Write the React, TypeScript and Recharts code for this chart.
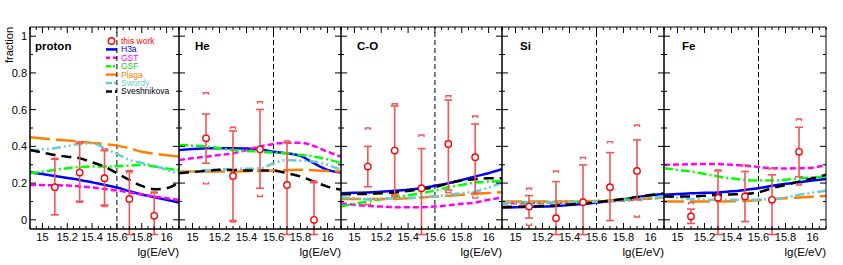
import { ComposedChart, Line, Scatter, ErrorBar, XAxis, YAxis, ReferenceLine } from "recharts";

const FONT = '"Liberation Sans", Arial, Helvetica, sans-serif';

// energy grid of the model curves and the measured bins, lg(E/eV)
const E_GRID = [14.9, 15.0, 15.1, 15.2, 15.3, 15.4, 15.5, 15.6, 15.7, 15.8, 15.9, 16.0, 16.1];
const POINT_E = [15.1, 15.3, 15.5, 15.7, 15.9];

const X_TICKS = [15, 15.2, 15.4, 15.6, 15.8, 16];
const X_MINOR = [14.9, 14.95, 15, 15.05, 15.1, 15.15, 15.2, 15.25, 15.3, 15.35, 15.4, 15.45, 15.5, 15.55, 15.6, 15.65, 15.7, 15.75, 15.8, 15.85, 15.9, 15.95, 16, 16.05, 16.1];
const Y_TICKS = [0, 0.2, 0.4, 0.6, 0.8, 1];
const Y_MINOR = [0, 0.1, 0.2, 0.3, 0.4, 0.5, 0.6, 0.7, 0.8, 0.9, 1];

const MODELS = ["H3a", "GST", "GSF", "Plaga", "Swordy", "Sveshnikova"];

const MODEL_STYLE: Record<string, { color: string; text: string; dash?: string; legendDash?: string }> = {
  H3a: { color: "#0000ff", text: "#0000ff" },
  GST: { color: "#ff00ff", text: "#ff00ff", dash: "6 3", legendDash: "4 3" },
  GSF: { color: "#00ff00", text: "#22cc22", dash: "9 3 2 3", legendDash: "5 2 2 2" },
  Plaga: { color: "#ff7f00", text: "#ff7f00", dash: "20 6" },
  Swordy: { color: "#66cccc", text: "#66cccc", dash: "9 3 2 3 2 3", legendDash: "6 2 2 2" },
  Sveshnikova: { color: "#000000", text: "#000000", dash: "10 6", legendDash: "6 3" },
};

// proton
const PROTON_MODELS = {
  H3a: [0.259, 0.249, 0.239, 0.228, 0.217, 0.204, 0.19, 0.176, 0.156, 0.138, 0.123, 0.109, 0.094],
  GST: [0.19, 0.189, 0.188, 0.187, 0.182, 0.176, 0.168, 0.16, 0.149, 0.138, 0.127, 0.118, 0.109],
  GSF: [0.254, 0.262, 0.272, 0.281, 0.288, 0.29, 0.29, 0.292, 0.295, 0.3, 0.29, 0.28, 0.27],
  Plaga: [0.449, 0.443, 0.437, 0.432, 0.426, 0.419, 0.412, 0.404, 0.39, 0.371, 0.36, 0.352, 0.344],
  Swordy: [0.377, 0.383, 0.39, 0.402, 0.413, 0.417, 0.39, 0.359, 0.326, 0.31, 0.295, 0.272, 0.25],
  Sveshnikova: [0.38, 0.367, 0.353, 0.344, 0.335, 0.313, 0.29, 0.254, 0.217, 0.185, 0.167, 0.172, 0.203],
};
const PROTON_POINTS = {
  val: [0.178, 0.257, 0.227, 0.114, 0.022],
  statLo: [0.027, 0.1, 0.08, -0.08, -0.08],
  statHi: [0.33, 0.417, 0.377, 0.268, 0.148],
  sysLo: [-0.1, 0.095, 0.072, -0.1, -0.1],
  sysHi: [0.335, 0.425, 0.386, 0.262, 0.152],
};

// He
const HE_MODELS = {
  H3a: [0.38, 0.385, 0.39, 0.39, 0.39, 0.388, 0.384, 0.371, 0.362, 0.348, 0.308, 0.272, 0.257],
  GST: [0.326, 0.335, 0.344, 0.353, 0.362, 0.38, 0.399, 0.413, 0.42, 0.42, 0.402, 0.371, 0.344],
  GSF: [0.408, 0.404, 0.399, 0.39, 0.38, 0.375, 0.371, 0.366, 0.362, 0.353, 0.344, 0.33, 0.308],
  Plaga: [0.263, 0.263, 0.263, 0.263, 0.263, 0.265, 0.266, 0.268, 0.27, 0.272, 0.27, 0.266, 0.263],
  Swordy: [0.257, 0.263, 0.27, 0.275, 0.277, 0.278, 0.28, 0.308, 0.326, 0.322, 0.317, 0.3, 0.272],
  Sveshnikova: [0.254, 0.26, 0.266, 0.272, 0.27, 0.268, 0.268, 0.268, 0.254, 0.236, 0.208, 0.181, 0.163],
};
const HE_POINTS = {
  val: [0.444, 0.239, 0.384, 0.19, 0.0],
  statLo: [0.308, -0.004, 0.172, -0.08, -0.08],
  statHi: [0.576, 0.484, 0.601, 0.42, 0.203],
  sysLo: [0.196, -0.012, 0.127, -0.1, -0.1],
  sysHi: [0.692, 0.504, 0.643, 0.43, 0.21],
};

// C-O
const CO_MODELS = {
  H3a: [0.145, 0.147, 0.149, 0.153, 0.158, 0.164, 0.172, 0.185, 0.199, 0.217, 0.236, 0.254, 0.275],
  GST: [0.09, 0.082, 0.076, 0.072, 0.069, 0.069, 0.069, 0.072, 0.079, 0.087, 0.094, 0.109, 0.121],
  GSF: [0.072, 0.088, 0.1, 0.112, 0.123, 0.134, 0.145, 0.159, 0.178, 0.19, 0.203, 0.208, 0.212],
  Plaga: [0.114, 0.114, 0.114, 0.114, 0.114, 0.118, 0.122, 0.127, 0.131, 0.136, 0.141, 0.146, 0.15],
  Swordy: [0.123, 0.117, 0.112, 0.114, 0.118, 0.12, 0.123, 0.128, 0.136, 0.145, 0.154, 0.175, 0.203],
  Sveshnikova: [0.139, 0.14, 0.141, 0.145, 0.149, 0.157, 0.167, 0.178, 0.199, 0.214, 0.221, 0.226, 0.226],
};
const CO_POINTS = {
  val: [0.29, 0.377, 0.172, 0.413, 0.341],
  statLo: [0.18, 0.136, -0.08, 0.163, 0.145],
  statHi: [0.4, 0.62, 0.388, 0.652, 0.522],
  sysLo: [0.082, 0.128, -0.1, 0.148, 0.118],
  sysHi: [0.5, 0.632, 0.462, 0.676, 0.565],
};

// Si
const SI_MODELS = {
  H3a: [0.067, 0.068, 0.07, 0.072, 0.075, 0.08, 0.087, 0.094, 0.103, 0.112, 0.123, 0.134, 0.141],
  GST: [0.09, 0.09, 0.091, 0.092, 0.093, 0.094, 0.096, 0.098, 0.101, 0.105, 0.11, 0.116, 0.122],
  GSF: [0.095, 0.095, 0.096, 0.097, 0.098, 0.099, 0.1, 0.101, 0.104, 0.108, 0.113, 0.118, 0.123],
  Plaga: [0.1, 0.1, 0.1, 0.1, 0.1, 0.1, 0.101, 0.103, 0.106, 0.11, 0.114, 0.118, 0.123],
  Swordy: [0.094, 0.094, 0.094, 0.094, 0.094, 0.095, 0.097, 0.099, 0.103, 0.108, 0.114, 0.12, 0.127],
  Sveshnikova: [0.07, 0.071, 0.073, 0.075, 0.078, 0.083, 0.089, 0.096, 0.104, 0.113, 0.124, 0.135, 0.143],
};
const SI_POINTS = {
  val: [0.072, 0.009, 0.096, 0.178, 0.266],
  statLo: [0.009, -0.08, -0.08, -0.004, 0.112],
  statHi: [0.132, 0.208, 0.299, 0.366, 0.435],
  sysLo: [-0.03, -0.1, -0.1, -0.1, 0.015],
  sysHi: [0.172, 0.266, 0.339, 0.426, 0.516],
};

// Fe
const FE_MODELS = {
  H3a: [0.136, 0.14, 0.145, 0.147, 0.149, 0.155, 0.163, 0.172, 0.185, 0.196, 0.205, 0.214, 0.223],
  GST: [0.299, 0.301, 0.303, 0.304, 0.304, 0.3, 0.295, 0.288, 0.281, 0.28, 0.281, 0.284, 0.299],
  GSF: [0.281, 0.272, 0.263, 0.25, 0.236, 0.226, 0.217, 0.214, 0.214, 0.218, 0.226, 0.231, 0.236],
  Plaga: [0.1, 0.1, 0.1, 0.1, 0.1, 0.101, 0.103, 0.107, 0.112, 0.117, 0.122, 0.126, 0.13],
  Swordy: [0.127, 0.12, 0.112, 0.11, 0.109, 0.109, 0.109, 0.11, 0.112, 0.122, 0.136, 0.148, 0.159],
  Sveshnikova: [0.127, 0.127, 0.127, 0.131, 0.136, 0.138, 0.141, 0.15, 0.172, 0.19, 0.208, 0.226, 0.245],
};
const FE_POINTS = {
  val: [0.018, 0.12, 0.127, 0.109, 0.37],
  statLo: [-0.02, -0.08, -0.01, -0.08, 0.235],
  statHi: [0.058, 0.268, 0.263, 0.245, 0.504],
  sysLo: [-0.1, -0.1, -0.1, -0.1, 0.19],
  sysHi: [0.094, 0.272, 0.299, 0.281, 0.549],
};

const PANEL_NAMES = ["proton", "He", "C-O", "Si", "Fe"];
const PANEL_MODELS = [PROTON_MODELS, HE_MODELS, CO_MODELS, SI_MODELS, FE_MODELS];
const PANEL_POINTS = [PROTON_POINTS, HE_POINTS, CO_POINTS, SI_POINTS, FE_POINTS];

// layout (page pixels)
const FRAME_X = [30, 179, 341, 502, 664, 826];
const NAME_X = [35, 195, 357, 520, 682];

const RED = "#ff0000";
const BAR_RED = "#f25555";

const isIn = (list: number[], v: number) => list.some((t) => Math.abs(t - v) < 1e-6);

// inside tick marks, longer on the labelled divisions
function tickMark(side: "bottom" | "top" | "left" | "right") {
  return (p: any) => {
    const v = p.payload.value;
    const major = side === "bottom" || side === "top" ? isIn(X_TICKS, v) : isIn(Y_TICKS, v);
    const len = major ? 6 : 3;
    const dx = side === "left" ? len : side === "right" ? -len : 0;
    const dy = side === "top" ? len : side === "bottom" ? -len : 0;
    return <line x1={p.x} y1={p.y} x2={p.x + dx} y2={p.y + dy} stroke="#000" strokeWidth={1} />;
  };
}

function Panel({ idx }: { idx: number }) {
  const first = idx === 0;
  const x0 = FRAME_X[idx];
  const x1 = FRAME_X[idx + 1];
  const padL = first ? 30 : 5;
  const left = x0 - padL;
  const width = x1 - x0 + padL + 5;
  const models = PANEL_MODELS[idx] as Record<string, number[]>;
  const points = PANEL_POINTS[idx];

  const rows = E_GRID.map((x, i) => {
    const r: Record<string, number> = { x };
    MODELS.forEach((m) => (r[m] = models[m][i]));
    return r;
  });
  const pts = POINT_E.map((x, i) => ({
    x,
    y: points.val[i],
    err: [points.val[i] - points.statLo[i], points.statHi[i] - points.val[i]],
  }));
  const sysHi = POINT_E.map((x, i) => ({ x, y: points.sysHi[i] }));
  const sysLo = POINT_E.map((x, i) => ({ x, y: points.sysLo[i] }));
  const lx = (v: number) => v - left;

  const mx = { type: "number" as const, dataKey: "x", domain: [14.9, 16.1], allowDataOverflow: true, interval: 0 as const, mirror: true, ticks: X_MINOR, tickLine: false, tickSize: 0, tickMargin: 0, stroke: "#000" };
  const my = { type: "number" as const, domain: [-0.05, 1.05], allowDataOverflow: true, interval: 0 as const, mirror: true, ticks: Y_MINOR, tickLine: false, tickSize: 0, tickMargin: 0, stroke: "#000" };

  return (
    <div style={{ position: "absolute", left, top: 0 }}>
      <ComposedChart width={width} height={265} data={rows} margin={{ top: 27, right: 5, bottom: 0, left: first ? 0 : 5 }}>
        <XAxis xAxisId="x" type="number" dataKey="x" domain={[14.9, 16.1]} allowDataOverflow ticks={X_TICKS} interval={0}
          height={36} tickLine={false} tickSize={0} tickMargin={4} stroke="#000"
          tick={{ fill: "#000", fontSize: 11, fontFamily: FONT }} />
        <XAxis xAxisId="xb" orientation="bottom" {...mx} tick={tickMark("bottom")} />
        <XAxis xAxisId="xt" orientation="top" {...mx} tick={tickMark("top")} />
        {first ? (
          <YAxis yAxisId="y" type="number" domain={[-0.05, 1.05]} allowDataOverflow ticks={Y_TICKS} interval={0} width={30}
            tickLine={false} tickSize={0} tickMargin={3} stroke="#000"
            tick={{ fill: "#000", fontSize: 11, fontFamily: FONT }} />
        ) : (
          <YAxis yAxisId="y" type="number" domain={[-0.05, 1.05]} allowDataOverflow hide />
        )}
        <YAxis yAxisId="yl" orientation="left" {...my} tick={tickMark("left")} />
        <YAxis yAxisId="yr" orientation="right" {...my} tick={tickMark("right")} />

        <ReferenceLine xAxisId="x" yAxisId="y" x={15.6} stroke="#000" strokeWidth={1} strokeDasharray="5 3" />

        {MODELS.map((m) => (
          <Line key={m} xAxisId="x" yAxisId="y" type="monotone" dataKey={m} stroke={MODEL_STYLE[m].color}
            strokeWidth={2.5} strokeDasharray={MODEL_STYLE[m].dash} dot={false} isAnimationActive={false} />
        ))}

        <Scatter xAxisId="x" yAxisId="y" data={sysHi} dataKey="y" isAnimationActive={false}
          shape={(p: any) => <path d={`M${p.cx - 2.5},${p.cy + 2}V${p.cy}H${p.cx + 2.5}V${p.cy + 2}`} stroke={BAR_RED} strokeWidth={1.4} fill="none" />} />
        <Scatter xAxisId="x" yAxisId="y" data={sysLo} dataKey="y" isAnimationActive={false}
          shape={(p: any) => <path d={`M${p.cx - 2.5},${p.cy - 2}V${p.cy}H${p.cx + 2.5}V${p.cy - 2}`} stroke={BAR_RED} strokeWidth={1.4} fill="none" />} />
        <Scatter xAxisId="x" yAxisId="y" data={pts} dataKey="y" isAnimationActive={false}
          shape={(p: any) => <circle cx={p.cx} cy={p.cy} r={3.2} fill="#fff" stroke={RED} strokeWidth={1.4} />}>
          <ErrorBar dataKey="err" direction="y" width={4} stroke={BAR_RED} strokeWidth={1.6} />
        </Scatter>

        <text x={lx(NAME_X[idx])} y={50} fontFamily={FONT} fontSize={11.5} fontWeight="bold" fill="#000">{PANEL_NAMES[idx]}</text>
        <text x={lx(x1)} y={255.5} textAnchor="end" fontFamily={FONT} fontSize={11.5} fill="#000">lg(E/eV)</text>
        {first && (
          <text transform="translate(13,27) rotate(-90)" textAnchor="end" fontFamily={FONT} fontSize={11} fill="#000">fraction</text>
        )}
        {first && (
          <g fontFamily={FONT} fontSize={8.5}>
            <circle cx={111.5} cy={41} r={3.2} fill="none" stroke={RED} strokeWidth={1.4} />
            <text x={121} y={44} fill={RED}>this work</text>
            {MODELS.map((m, i) => {
              const y = 49.4 + i * 8.4;
              const st = MODEL_STYLE[m];
              return (
                <g key={m}>
                  <line x1={106} x2={117} y1={y} y2={y} stroke={st.color} strokeWidth={2.5} strokeDasharray={st.legendDash} />
                  <text x={121} y={y + 3} fill={st.text}>{m}</text>
                </g>
              );
            })}
          </g>
        )}
      </ComposedChart>
    </div>
  );
}

export default function App() {
  return (
    <div style={{ position: "absolute", left: 0, top: 0, width: 843, height: 265, background: "#fff" }}>
      {PANEL_NAMES.map((n, i) => (
        <Panel key={n} idx={i} />
      ))}
    </div>
  );
}
